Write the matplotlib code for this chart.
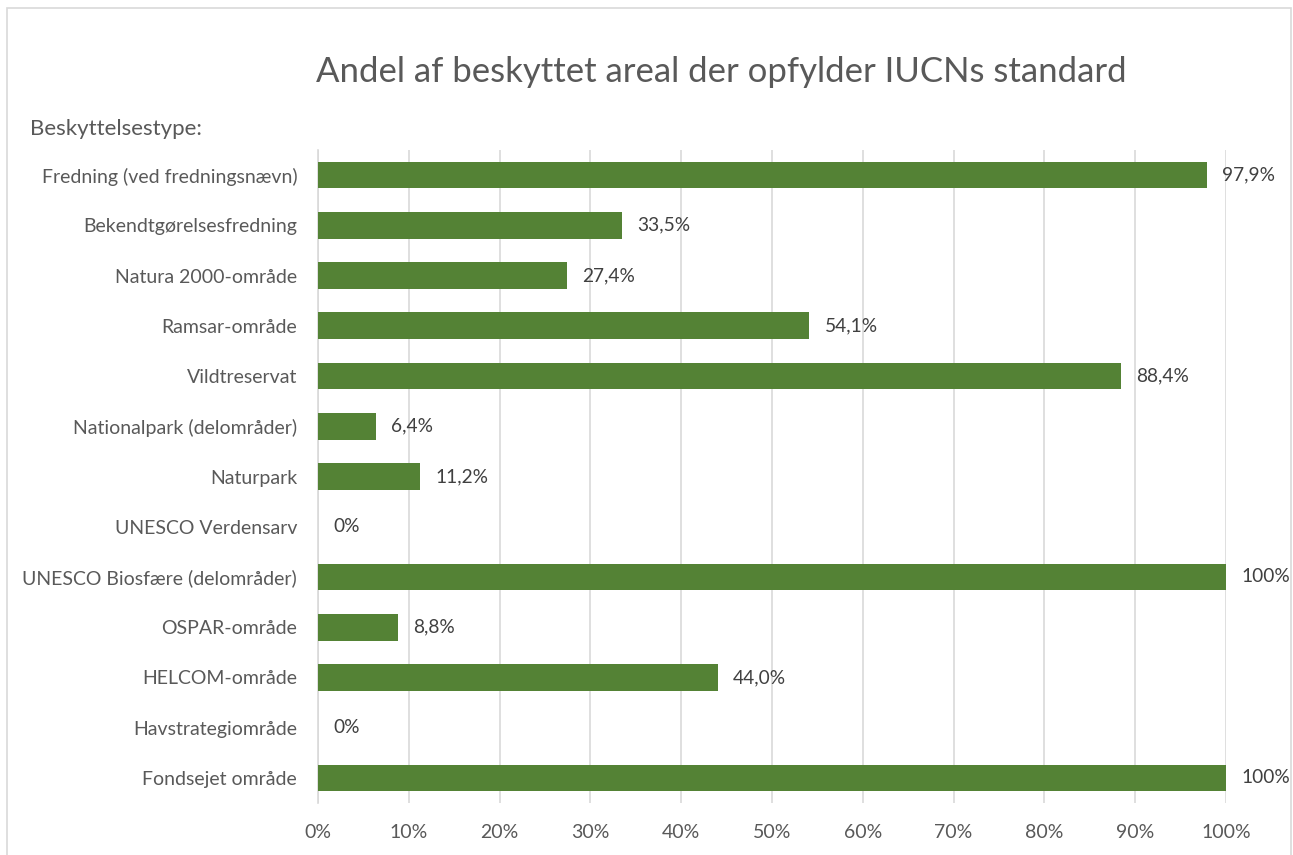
import matplotlib
matplotlib.use("Agg")
import matplotlib.pyplot as plt
from matplotlib.patches import Rectangle
from matplotlib.ticker import MultipleLocator, FuncFormatter

categories = [
    "Fredning (ved fredningsnævn)",
    "Bekendtgørelsesfredning",
    "Natura 2000-område",
    "Ramsar-område",
    "Vildtreservat",
    "Nationalpark (delområder)",
    "Naturpark",
    "UNESCO Verdensarv",
    "UNESCO Biosfære (delområder)",
    "OSPAR-område",
    "HELCOM-område",
    "Havstrategiområde",
    "Fondsejet område",
]
values = [97.9, 33.5, 27.4, 54.1, 88.4, 6.4, 11.2, 0, 100, 8.8, 44.0, 0, 100]
value_labels = ["97,9%", "33,5%", "27,4%", "54,1%", "88,4%", "6,4%", "11,2%",
                "0%", "100%", "8,8%", "44,0%", "0%", "100%"]
title = "Andel af beskyttet areal der opfylder IUCNs standard"
axis_title = "Beskyttelsestype:"

plt.rcParams['font.family'] = ['Lato', 'DejaVu Sans']

W, H = 1293, 855
fig = plt.figure(figsize=(W / 100, H / 100), dpi=100)
fig.patch.set_facecolor("white")

# chart border
fig.add_artist(Rectangle((7 / W, -0.01), (1291 - 7) / W, 1 - 8 / H + 0.01,
                         transform=fig.transFigure, fill=False,
                         edgecolor="#d9d9d9", linewidth=1.2))

ax = fig.add_axes([318 / W, 1 - 803 / H, (1226 - 318) / W, (803 - 150) / H])
y = list(range(len(categories)))
ax.barh(y, values, height=0.53, color="#548235", zorder=3)
ax.set_ylim(len(categories) - 0.5, -0.5)
ax.set_xlim(0, 100)
ax.xaxis.set_major_locator(MultipleLocator(10))
ax.xaxis.set_major_formatter(FuncFormatter(lambda v, p: f"{int(round(v))}%"))
ax.grid(axis="x", color="#d9d9d9", linewidth=1.2, zorder=0)
ax.set_yticks(y)
ax.set_yticklabels(categories)
for s in ["top", "right", "bottom"]:
    ax.spines[s].set_visible(False)
ax.spines["left"].set_color("#d9d9d9")
ax.spines["left"].set_linewidth(1.2)
ax.tick_params(axis="x", length=0, colors="#595959", labelsize=14, pad=15)
ax.tick_params(axis="y", length=0, colors="#595959", labelsize=14, pad=15)

for yi, v, lab in zip(y, values, value_labels):
    ax.annotate(lab, (v, yi), xytext=(11, 0), textcoords="offset points",
                va="center", ha="left", fontsize=13.8, color="#404040")

fig.text(721 / W, 1 - 72 / H, title, ha="center", va="center",
         fontsize=25, color="#595959")
fig.text(30 / W, 1 - 129 / H, axis_title, ha="left", va="center",
         fontsize=16, color="#595959")

fig.savefig("out.png", dpi=100, facecolor="white")
